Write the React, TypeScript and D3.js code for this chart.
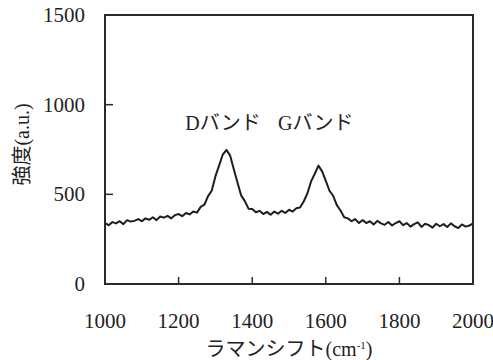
import React, { useRef, useEffect } from 'react';
import * as d3 from 'd3';

// Raman spectrum at 10 cm-1 steps
const shifts: number[] = d3.range(1000, 2001, 10);
const intensity: number[] = [
  340, 328, 345, 338, 350, 334, 356, 348, 352, 362,
  350, 366, 358, 372, 356, 376, 370, 380, 366, 384,
  390, 378, 396, 388, 404, 398, 430, 442, 490, 520,
  600, 660, 722, 748, 716, 640, 566, 494, 462, 420,
  418, 400, 408, 390, 402, 386, 404, 392, 408, 396,
  414, 404, 422, 426, 460, 505, 572, 615, 660, 628,
  575, 520, 492, 440, 410, 372, 366, 350, 362, 340,
  356, 340, 350, 332, 352, 338, 330, 346, 326, 340,
  350, 328, 340, 320, 334, 344, 318, 336, 328, 314,
  336, 322, 334, 318, 338, 322, 312, 332, 320, 326,
  338,
];
const xTicks = [1000, 1200, 1400, 1600, 1800, 2000];
const yTicks = [0, 500, 1000, 1500];
const bandLabels = [
  { text: 'Dバンド', x: 1218 },
  { text: 'Gバンド', x: 1470 },
];

const W = 493;
const H = 360;
const margin = { top: 15, right: 20, bottom: 76, left: 105 };
const FONT = 'Liberation Serif, Noto Sans CJK JP, serif';

const App: React.FC = () => {
  const svgRef = useRef<SVGSVGElement>(null);

  useEffect(() => {
    const svg = d3.select(svgRef.current);
    svg.selectAll('*').remove();

    const x = d3.scaleLinear().domain([1000, 2000]).range([margin.left, W - margin.right]);
    const y = d3.scaleLinear().domain([0, 1500]).range([H - margin.bottom, margin.top]);

    const data = shifts.map((s, i) => ({ s, v: intensity[i] }));

    // spectrum
    const line = d3
      .line<{ s: number; v: number }>()
      .x(d => x(d.s))
      .y(d => y(d.v));
    svg
      .append('path')
      .datum(data)
      .attr('d', line)
      .attr('fill', 'none')
      .attr('stroke', '#1e1e1e')
      .attr('stroke-width', 2)
      .attr('stroke-linejoin', 'round');

    // frame (left, bottom, top, right)
    svg
      .append('rect')
      .attr('x', x(1000))
      .attr('y', y(1500))
      .attr('width', x(2000) - x(1000))
      .attr('height', y(0) - y(1500))
      .attr('fill', 'none')
      .attr('stroke', '#2a2a2a')
      .attr('stroke-width', 2);

    // inward ticks
    svg
      .selectAll('.yt')
      .data(yTicks.filter(t => t > 0 && t < 1500))
      .enter()
      .append('line')
      .attr('x1', x(1000))
      .attr('x2', x(1000) + 8)
      .attr('y1', d => y(d))
      .attr('y2', d => y(d))
      .attr('stroke', '#2a2a2a')
      .attr('stroke-width', 1.5);
    svg
      .selectAll('.xt')
      .data(xTicks.filter(t => t > 1000 && t < 2000))
      .enter()
      .append('line')
      .attr('x1', d => x(d))
      .attr('x2', d => x(d))
      .attr('y1', y(0))
      .attr('y2', y(0) - 7)
      .attr('stroke', '#2a2a2a')
      .attr('stroke-width', 1.5);

    // tick labels
    svg
      .selectAll('.yl')
      .data(yTicks)
      .enter()
      .append('text')
      .attr('x', x(1000) - 20)
      .attr('y', d => y(d) + 7)
      .attr('text-anchor', 'end')
      .attr('font-family', FONT)
      .attr('font-size', 21)
      .attr('fill', '#222')
      .text(d => d);
    svg
      .selectAll('.xl')
      .data(xTicks)
      .enter()
      .append('text')
      .attr('x', d => x(d))
      .attr('y', y(0) + 44)
      .attr('text-anchor', 'middle')
      .attr('font-family', FONT)
      .attr('font-size', 21)
      .attr('fill', '#222')
      .text(d => d);

    // axis titles
    const xt = svg
      .append('text')
      .attr('x', (x(1000) + x(2000)) / 2)
      .attr('y', H - 4)
      .attr('text-anchor', 'middle')
      .attr('font-family', FONT)
      .attr('font-size', 20)
      .attr('fill', '#222');
    xt.append('tspan').text('ラマンシフト(cm');
    xt.append('tspan').attr('dy', -7).attr('font-size', 11).text('-1');
    xt.append('tspan').attr('dy', 7).text(')');

    svg
      .append('text')
      .attr('transform', `translate(29, ${(y(0) + y(1500)) / 2 - 5}) rotate(-90)`)
      .attr('text-anchor', 'middle')
      .attr('font-family', FONT)
      .attr('font-size', 20)
      .attr('fill', '#222')
      .text('強度(a.u.)');

    // band annotations
    svg
      .selectAll('.band')
      .data(bandLabels)
      .enter()
      .append('text')
      .attr('x', d => x(d.x))
      .attr('y', y(860))
      .attr('font-family', FONT)
      .attr('font-size', 20)
      .attr('fill', '#222')
      .text(d => d.text);
  }, []);

  return (
    <div style={{ position: 'absolute', left: 0, top: 0, background: 'white' }}>
      <svg ref={svgRef} width={W} height={H} style={{ display: 'block' }} />
    </div>
  );
};

export default App;
